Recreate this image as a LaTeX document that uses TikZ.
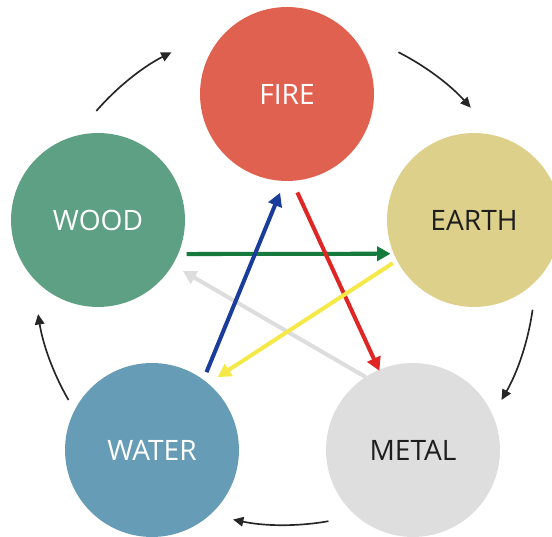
\documentclass[tikz,border=0pt]{standalone}
\usepackage{fontspec}
\setmainfont{Open Sans}
\usetikzlibrary{arrows.meta}

\definecolor{firecol}{HTML}{E06150}
\definecolor{woodcol}{HTML}{5DA083}
\definecolor{earthcol}{HTML}{DDD08A}
\definecolor{watercol}{HTML}{679CB6}
\definecolor{metalcol}{HTML}{DEDEDE}
\definecolor{textdark}{HTML}{1E1E1E}
\definecolor{greenarr}{HTML}{157A3C}
\definecolor{bluearr}{HTML}{1A3D9C}
\definecolor{redarr}{HTML}{E02525}
\definecolor{yellowarr}{HTML}{F5E94A}
\definecolor{grayarr}{HTML}{DDDDDD}

\begin{document}
\begin{tikzpicture}[x=0.02cm, y=0.02cm,
  element/.style={circle, minimum size=3.48cm, inner sep=0pt, font=\fontsize{16}{19}\selectfont},
  cyclearrow/.style={-{Triangle[length=5.9pt, width=5.4pt]}, line width=0.95pt, black!85},
  controlarrow/.style={-{Triangle[length=7.6pt, width=8pt]}, line width=2.3pt}]

\useasboundingbox (0,0) rectangle (552,537);

% Five elements
\node[element, fill=firecol, text=white] (fire) at (287,443) {FIRE};
\node[element, fill=woodcol, text=white] (wood) at (98,317) {WOOD};
\node[element, fill=earthcol, text=textdark] (earth) at (474,317) {EARTH};
\node[element, fill=watercol, text=white] (water) at (152,87) {WATER};
\node[element, fill=metalcol, text=textdark] (metal) at (413,87) {METAL};

% Generating cycle (black arcs)
\coordinate (hub) at (285,262);
\foreach \a/\b in {139/117, 63/42, -8/-30, -80/-102, -150/-171} {
    \draw[cyclearrow] ([shift={(\a:250)}]hub) arc[start angle=\a, end angle=\b, radius=250];
}

% Controlling cycle (coloured star)
\foreach \from/\p/\r/\to/\q/\s/\col in {
    metal/123/87/wood/-31/99/grayarr,
    wood/-21/95/earth/202/90/greenarr,
    water/55/95/fire/-94/99/bluearr,
    fire/-84/99/metal/113/86/redarr,
    earth/-152/92/water/48/98/yellowarr} {
    \draw[controlarrow, \col] ([shift={(\p:\r)}]\from.center) -- ([shift={(\q:\s)}]\to.center);
}

\end{tikzpicture}
\end{document}
